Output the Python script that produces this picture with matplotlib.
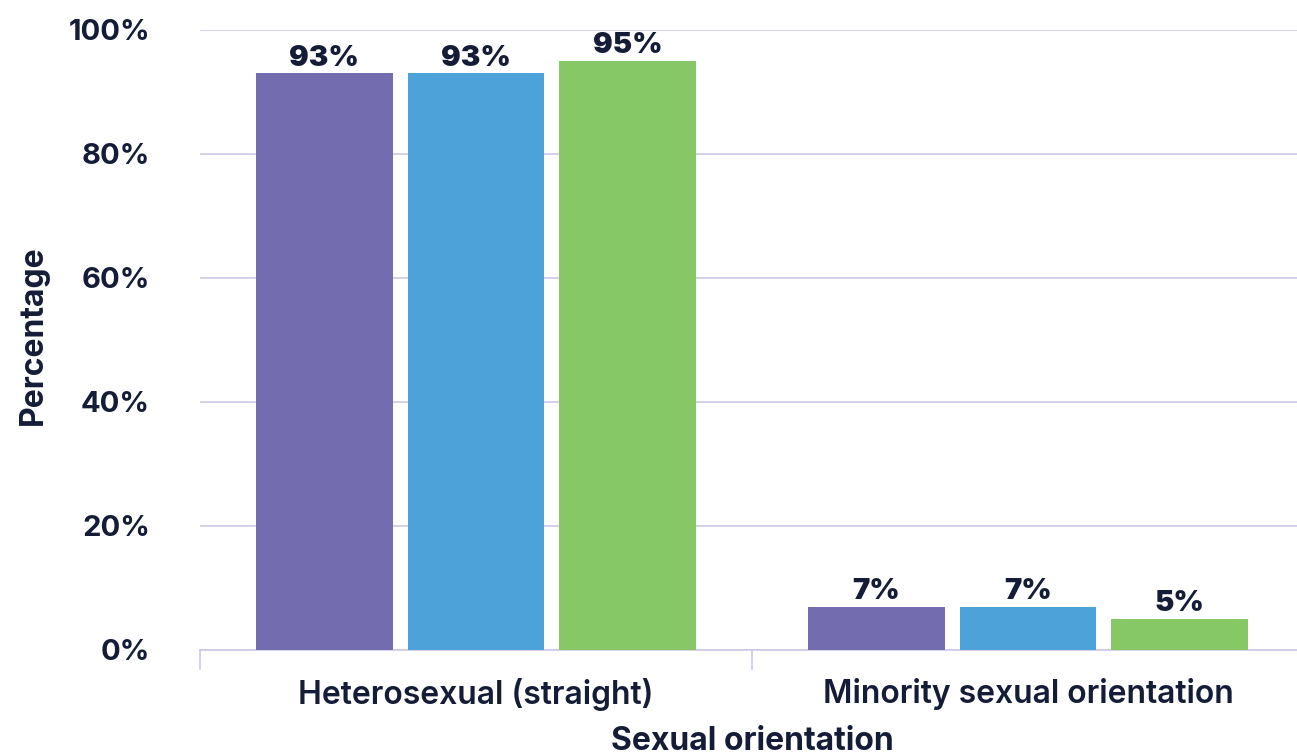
import numpy as np
import matplotlib.pyplot as plt

# Data
categories = ['Heterosexual (straight)', 'Minority sexual orientation']
series_a = [93, 7]
series_b = [93, 7]
series_c = [95, 5]
colors = ['#736cae', '#4da3d9', '#86c865']
y_ticks = [0, 20, 40, 60, 80, 100]

TEXT = '#141c38'
GRID = '#cdc8e6'

plt.rcParams['font.family'] = ['Inter', 'DejaVu Sans']

fig = plt.figure(figsize=(12.97, 7.56), dpi=100)
ax = fig.add_axes([200 / 1297, 106 / 756, 1097 / 1297, 620 / 756])

x = np.arange(len(categories))
width = 0.248
step = 0.275
for i, (vals, c) in enumerate(zip([series_a, series_b, series_c], colors)):
    pos = x + (i - 1) * step
    ax.bar(pos, vals, width=width, color=c, zorder=3)
    for px, v in zip(pos, vals):
        ax.text(px, v + 0.3, f'{v}%', ha='center', va='bottom',
                fontsize=21, fontweight='black', color=TEXT, zorder=4)

ax.set_xlim(-0.5, 1.5 - 7 / 552)
ax.set_ylim(0, 100)
ax.set_yticks(y_ticks)
ax.set_yticklabels([f'{t}%' for t in y_ticks])
ax.grid(axis='y', color=GRID, linewidth=1.2, zorder=0)
ax.set_axisbelow(True)

ax.set_xticks(x)
ax.set_xticklabels(categories)
ax.tick_params(axis='x', length=0, pad=20, labelsize=23, labelcolor=TEXT)
ax.tick_params(axis='y', length=0, pad=36, labelsize=21, labelcolor=TEXT)
for lab in ax.get_xticklabels():
    lab.set_fontweight('semibold')
for lab in ax.get_yticklabels():
    lab.set_fontweight('bold')

# category boundary ticks
for b in [-0.5, 0.5]:
    ax.plot([b, b], [0, -3], color=GRID, linewidth=1.2, clip_on=False)

for s in ['top', 'right', 'left']:
    ax.spines[s].set_visible(False)
ax.spines['bottom'].set_color(GRID)
ax.spines['bottom'].set_linewidth(1.2)

fig.text(33 / 1297, 1 - 335 / 756, 'Percentage', rotation=90, ha='center',
         va='center', fontsize=23, fontweight='bold', color=TEXT)
fig.text(752 / 1297, 1 - 742 / 756, 'Sexual orientation', ha='center',
         va='center', fontsize=23, fontweight='bold', color=TEXT)

fig.savefig('out.png', dpi=100)
